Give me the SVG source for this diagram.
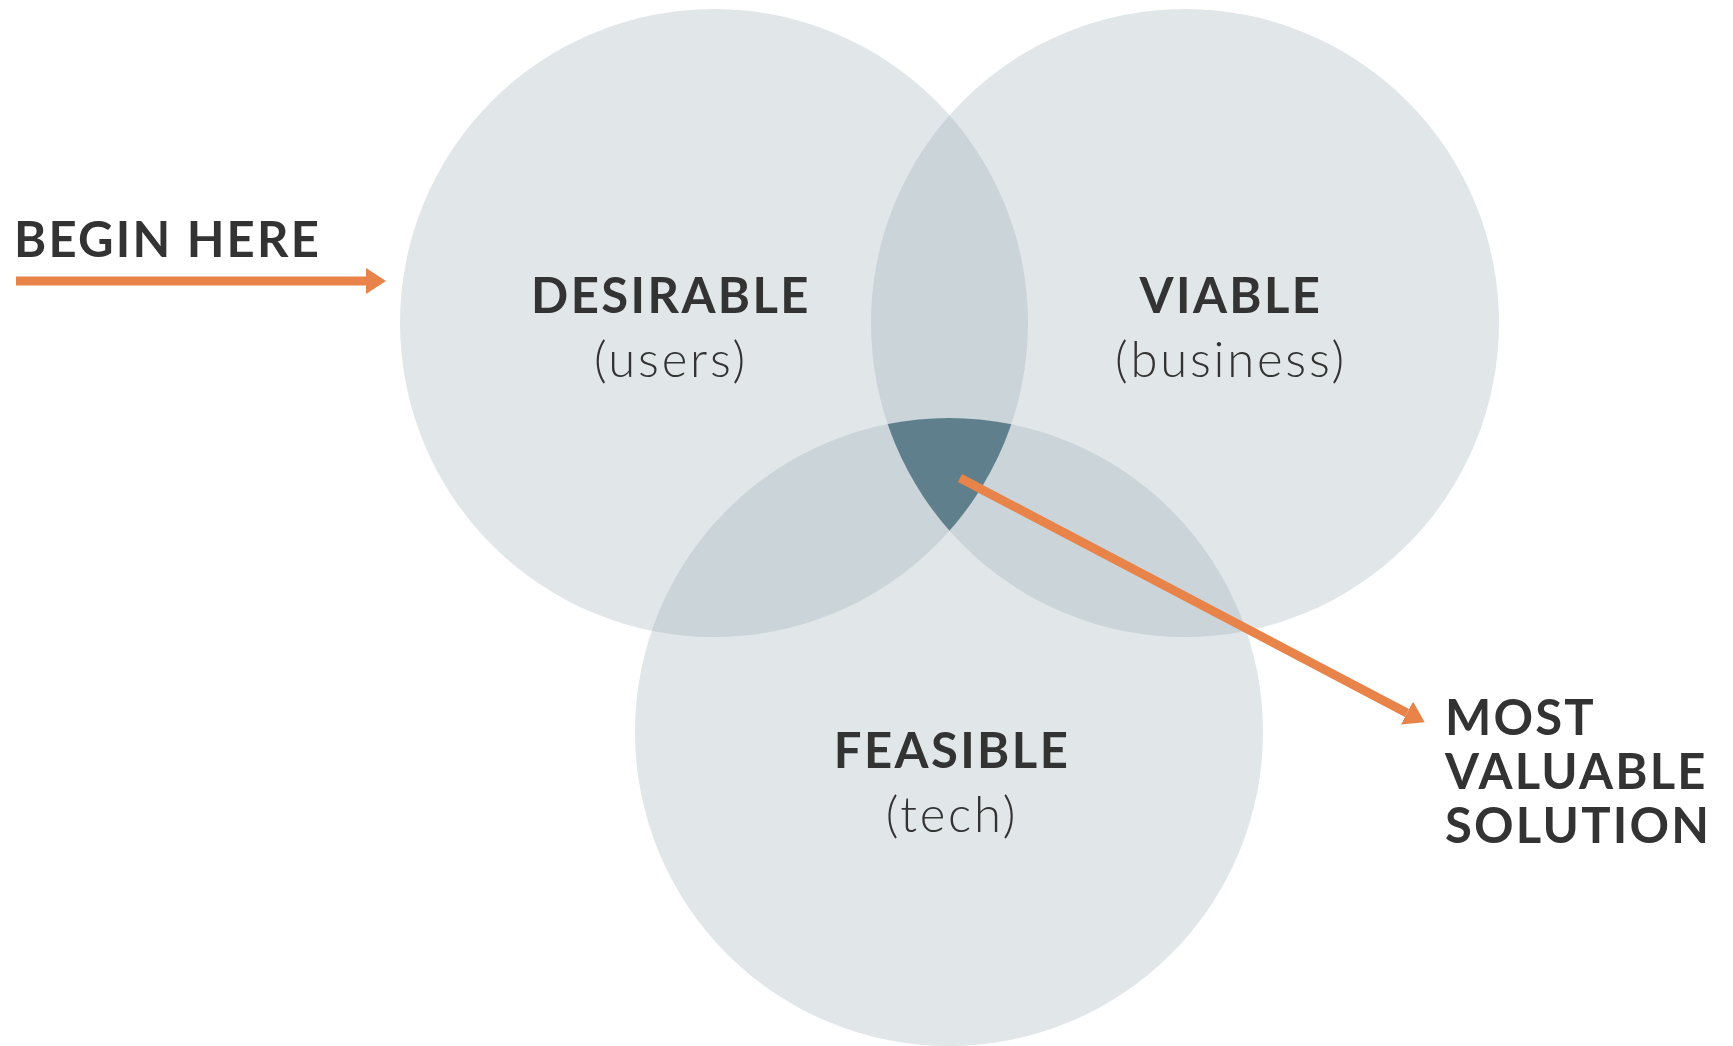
<svg xmlns="http://www.w3.org/2000/svg" width="1733" height="1046" viewBox="0 0 1733 1046">
<style>
.base{fill:#e1e6e9}
.pair{fill:#cbd4d9}
.triple{fill:#5f7f8c}
.conn{stroke:#e8834a;stroke-width:9;fill:none}
.title{font-family:Lato,"Liberation Sans",sans-serif;font-weight:700;font-size:49px;letter-spacing:2.4px;fill:#333333;text-anchor:middle}
.sub{font-family:Lato,"Liberation Sans",sans-serif;font-weight:300;font-size:49px;letter-spacing:2.8px;fill:#333333;text-anchor:middle}
.lbl{font-family:Lato,"Liberation Sans",sans-serif;font-weight:700;font-size:49px;letter-spacing:2.2px;fill:#333333}
</style>
<defs>
<marker id="head" markerUnits="userSpaceOnUse" markerWidth="22" markerHeight="28" refX="0" refY="13" orient="auto">
<path d="M0,0 L20,13 L0,26 z" fill="#e8834a"/>
</marker>
<clipPath id="cD"><circle cx="714" cy="323" r="314"/></clipPath>
<clipPath id="cV"><circle cx="1185" cy="323" r="314"/></clipPath>
<clipPath id="cF"><circle cx="949" cy="732" r="314"/></clipPath>
</defs>
<g id="desirable">
<circle class="base" cx="714" cy="323" r="314"/>
</g>
<g id="viable">
<circle class="base" cx="1185" cy="323" r="314"/>
</g>
<g id="feasible">
<circle class="base" cx="949" cy="732" r="314"/>
</g>
<g id="overlaps">
<g clip-path="url(#cD)"><circle class="pair" cx="1185" cy="323" r="314"/><circle class="pair" cx="949" cy="732" r="314"/></g>
<g clip-path="url(#cV)"><circle class="pair" cx="949" cy="732" r="314"/></g>
<g clip-path="url(#cD)"><g clip-path="url(#cV)"><circle class="triple" cx="949" cy="732" r="314"/></g></g>
</g>
<g id="labels-desirable">
<text class="title" x="671" y="313">DESIRABLE</text>
<text class="sub" x="671" y="377">(users)</text>
</g>
<g id="labels-viable">
<text class="title" x="1231" y="313">VIABLE</text>
<text class="sub" x="1231" y="377">(business)</text>
</g>
<g id="labels-feasible">
<text class="title" x="952" y="768">FEASIBLE</text>
<text class="sub" x="952" y="832">(tech)</text>
</g>
<g id="begin-here">
<text class="lbl" x="14" y="257">BEGIN HERE</text>
</g>
<g id="most-valuable">
<text class="lbl" x="1445" y="735">MOST</text>
<text class="lbl" x="1445" y="789">VALUABLE</text>
<text class="lbl" x="1445" y="843">SOLUTION</text>
</g>
<g id="connectors">
<line class="conn" x1="16" y1="281" x2="366" y2="281" marker-end="url(#head)"/>
<line class="conn" x1="960" y1="478" x2="1407" y2="713" marker-end="url(#head)"/>
</g>
</svg>
